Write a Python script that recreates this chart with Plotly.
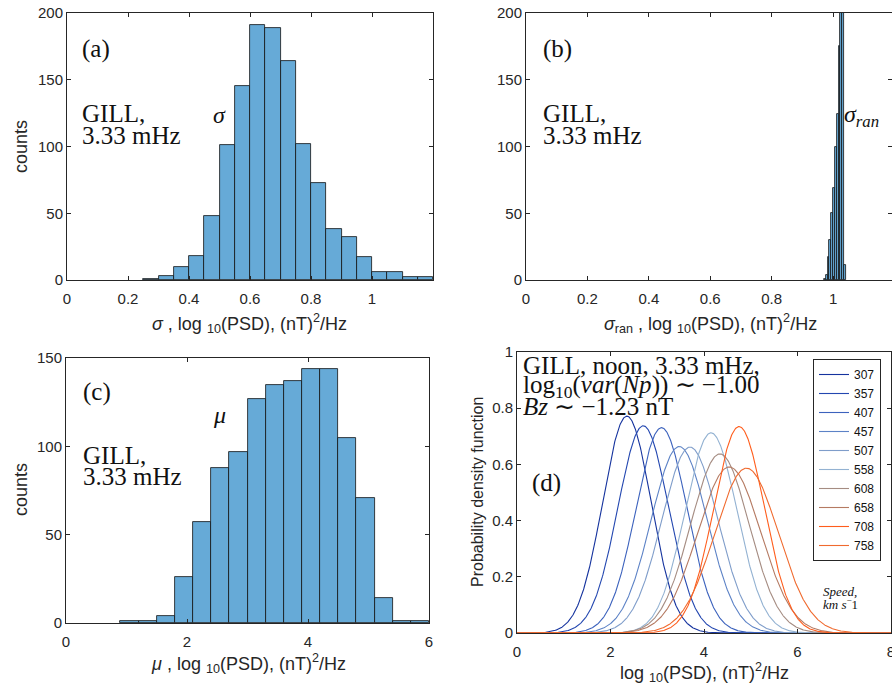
import numpy as np
import plotly.graph_objects as go

# ---------------- data ----------------
# (a) sigma histogram
a_left = [0.25, 0.30, 0.35, 0.40, 0.45, 0.50, 0.55, 0.60, 0.65, 0.70,
          0.75, 0.80, 0.85, 0.90, 0.95, 1.00, 1.05, 1.10, 1.15]
a_counts = [1, 3, 10, 18, 48, 101, 145, 191, 189, 164,
            102, 73, 38, 32, 17, 6, 6, 2, 2]
a_width = 0.05

# (b) sigma_ran histogram
b_left = [0.970, 0.976, 0.982, 0.988, 0.994, 1.000, 1.006, 1.012,
          1.018, 1.024, 1.030, 1.036]
b_counts = [1, 4, 17, 30, 50, 69, 100, 124, 175, 240, 230, 11]
b_width = 0.006

# (c) mu histogram
c_left = [0.9, 1.2, 1.5, 1.8, 2.1, 2.4, 2.7, 3.0, 3.3, 3.6, 3.9, 4.2,
          4.5, 4.8, 5.1, 5.4, 5.7]
c_counts = [1, 1, 4, 26, 57, 88, 97, 127, 135, 137, 144, 144,
            105, 71, 14, 1, 1]
c_width = 0.3

# (d) PDFs per speed
speeds = ["307", "357", "407", "457", "507", "558", "608", "658", "708", "758"]
pdf_mean = [2.35, 2.70, 3.09, 3.47, 3.70, 4.15, 4.34, 4.54, 4.75, 4.91]
pdf_sd = [0.517, 0.541, 0.546, 0.601, 0.603, 0.560, 0.626, 0.675, 0.543, 0.680]
speed_colors = ["#15339e", "#2347b0", "#3c62bd", "#5c82c6", "#7f9dca",
                "#93b2d2", "#a58c82", "#b57a62", "#ff5d1c", "#f06a2e"]

# ---------------- layout helpers ----------------
W, H = 892, 691
def px(x):
    return x / W
def py(y):
    return 1 - y / H

AX = "#262626"
BAR = "#66aad7"
SANS = "Liberation Sans, Arial, sans-serif"
SERIF = "Liberation Serif, Times New Roman, serif"
TICKFONT = dict(family=SANS, size=15, color=AX)

fig = go.Figure()

def add_hist(left, counts, width, xa, ya):
    centers = [l + width / 2 for l in left]
    fig.add_trace(go.Bar(x=centers, y=counts, width=width,
                         marker=dict(color=BAR, line=dict(color="#111111", width=0.8)),
                         xaxis=xa, yaxis=ya, showlegend=False))

add_hist(a_left, a_counts, a_width, "x", "y")
add_hist(b_left, b_counts, b_width, "x2", "y2")
add_hist(c_left, c_counts, c_width, "x3", "y3")

xs = np.linspace(0, 8, 801)
for name, m, s, col in zip(speeds, pdf_mean, pdf_sd, speed_colors):
    ys = np.exp(-0.5 * ((xs - m) / s) ** 2) / (s * np.sqrt(2 * np.pi))
    fig.add_trace(go.Scatter(x=xs, y=ys, mode="lines", name=name,
                             line=dict(color=col, width=1.1),
                             xaxis="x4", yaxis="y4", showlegend=True))

def axis_common(**kw):
    d = dict(showline=True, linecolor=AX, linewidth=1, mirror="ticks",
             ticks="inside", ticklen=4, tickcolor=AX, tickwidth=1,
             showgrid=False, zeroline=False, tickfont=TICKFONT,
             automargin=False, ticklabeloverflow="allow")
    d.update(kw)
    return d

XSTAND = 5
fig.update_layout(
    width=W, height=H,
    margin=dict(l=0, r=0, t=0, b=0, autoexpand=False),
    paper_bgcolor="white", plot_bgcolor="white",
    bargap=0,
    xaxis=axis_common(domain=[px(67), px(433)], range=[0, 1.2], anchor="y",
                      tickvals=[0, 0.2, 0.4, 0.6, 0.8, 1],
                      ticktext=["0", "0.2", "0.4", "0.6", "0.8", "1"],
                      ticklabelstandoff=XSTAND),
    yaxis=axis_common(domain=[py(280), py(13)], range=[0, 200], anchor="x",
                      tickvals=[0, 50, 100, 150, 200]),
    xaxis2=axis_common(domain=[px(526), 1.0], range=[0, 1.192], anchor="y2",
                       tickvals=[0, 0.2, 0.4, 0.6, 0.8, 1],
                       ticktext=["0", "0.2", "0.4", "0.6", "0.8", "1"],
                       ticklabelstandoff=XSTAND),
    yaxis2=axis_common(domain=[py(280), py(13)], range=[0, 200], anchor="x2",
                       tickvals=[0, 50, 100, 150, 200]),
    xaxis3=axis_common(domain=[px(66), px(429)], range=[0, 6], anchor="y3",
                       tickvals=[0, 2, 4, 6], ticklabelstandoff=XSTAND),
    yaxis3=axis_common(domain=[py(623), py(358)], range=[0, 150], anchor="x3",
                       tickvals=[0, 50, 100, 150]),
    xaxis4=axis_common(domain=[px(517), px(891)], range=[0, 8], anchor="y4",
                       tickvals=[0, 2, 4, 6, 8], ticklabelstandoff=XSTAND),
    yaxis4=axis_common(domain=[py(633), py(352)], range=[0, 1], anchor="x4",
                       tickvals=[0, 0.2, 0.4, 0.6, 0.8, 1],
                       ticktext=["0", "0.2", "0.4", "0.6", "0.8", "1"]),
    legend=dict(x=px(881), y=py(359), xanchor="right", yanchor="top",
                bgcolor="white", bordercolor=AX, borderwidth=1,
                font=dict(family=SANS, size=12, color="#111111"),
                itemwidth=30, tracegroupgap=0),
)

ann = []
def text(x, y, t, size=25, xanchor="left", family=SERIF, angle=0, color="#111111"):
    ann.append(dict(x=px(x), y=py(y), xref="paper", yref="paper", text=t,
                    showarrow=False, xanchor=xanchor, yanchor="middle",
                    textangle=angle, font=dict(family=family, size=size, color=color)))

# panel (a)
text(80, 49, "(a)")
text(80, 113, "GILL,")
text(80, 135, "3.33 mHz")
text(219, 115, "<i>σ</i>", 24, xanchor="center")
# panel (b)
text(541, 49, "(b)")
text(541, 113, "GILL,")
text(541, 135, "3.33 mHz")
text(842, 116, "<i>σ<sub>ran</sub></i>", 24)
# panel (c)
text(81, 392, "(c)")
text(81, 455, "GILL,")
text(81, 477, "3.33 mHz")
text(219, 415, "<i>μ</i>", 24, xanchor="center")
# panel (d)
text(521, 365, "GILL, noon, 3.33 mHz,")
text(521, 386, "log<sub>10</sub>(<i>var</i>(<i>Np</i>)) ∼ −1.00")
text(521, 407, "<i>Bz</i> ∼ −1.23 nT")
text(530, 483, "(d)")
text(821, 591, "<i>Speed,</i>", 13)
text(821, 604, "<i>km s</i><sup>−</sup>1", 13)

# axis titles
text(250, 323, "<i>σ</i> , log <sub>10</sub>(PSD), (nT)<sup>2</sup>/Hz", 18, xanchor="center", family=SANS, color=AX)
text(710, 323, "<i>σ</i><sub>ran</sub> , log <sub>10</sub>(PSD), (nT)<sup>2</sup>/Hz", 18, xanchor="center", family=SANS, color=AX)
text(248, 663, "<i>μ</i> , log <sub>10</sub>(PSD), (nT)<sup>2</sup>/Hz", 18, xanchor="center", family=SANS, color=AX)
text(704, 672, "log <sub>10</sub>(PSD), (nT)<sup>2</sup>/Hz", 18, xanchor="center", family=SANS, color=AX)
text(21, 147, "counts", 18, xanchor="center", family=SANS, angle=-90, color=AX)
text(21, 490, "counts", 18, xanchor="center", family=SANS, angle=-90, color=AX)
text(478, 492, "Probability density function", 16, xanchor="center", family=SANS, angle=-90, color=AX)

fig.update_layout(annotations=ann)
fig.write_html("out.html", config={"displayModeBar": False},
               post_script="document.body.style.margin='0';document.body.style.overflow='hidden';")
